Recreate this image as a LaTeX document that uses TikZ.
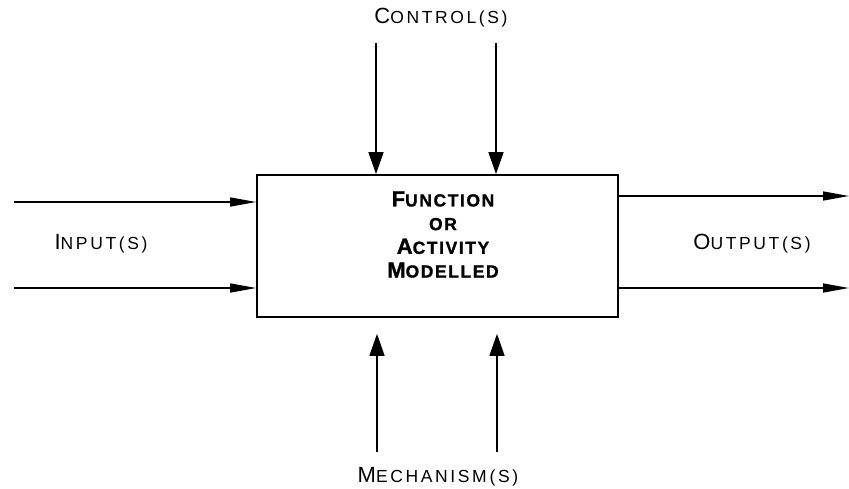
\documentclass[tikz,border=0pt]{standalone}
\usepackage{fontspec}
\usetikzlibrary{arrows.meta}
\newfontfamily\lblfont[LetterSpace=15]{Liberation Sans}
\newfontfamily\boxfont[LetterSpace=9,BoldFeatures={FakeBold=1.2}]{Liberation Sans}
% small capitals built from two sizes of capitals
\newcommand\bigsmall[2]{{\fontsize{22}{24}\selectfont #1}{\fontsize{17.5}{20}\selectfont #2}}
\newcommand\smallonly[1]{{\fontsize{17.5}{20}\selectfont #1}}
\begin{document}
\begin{tikzpicture}[x=1pt,y=-1pt,
  conn/.style={line width=1.4pt},
  vhead/.style={conn,-{Triangle[length=22pt,width=15pt]}},
  hhead/.style={conn,-{Triangle[length=26pt,width=9pt]}},
  lbl/.style={inner sep=0pt,font=\lblfont},
  fnbox/.style={draw,line width=1.7pt,minimum width=361pt,minimum height=142pt,inner sep=0pt}]
\useasboundingbox (0,0) rectangle (849,488);

% activity box and its name
\node[fnbox] (fn) at (437.5,246) {};
\node[inner sep=0pt,align=center,font=\boxfont\bfseries\fontsize{17.5}{23.7}\selectfont] (fntext) at (443,234.5)
  {\bigsmall{F}{UNCTION}\\\smallonly{OR}\\\bigsmall{A}{CTIVITY}\\\bigsmall{M}{ODELLED}};

% free ends of the arrows
\coordinate (c1) at (376,43);
\coordinate (c2) at (496,43);
\coordinate (m1) at (377,452);
\coordinate (m2) at (497,452);
\coordinate (i1) at (14,202);
\coordinate (i2) at (14,288);
\coordinate (o1) at (849,196);
\coordinate (o2) at (849,288);

% controls
\draw[vhead] (c1) -- (c1 |- fn.north);
\draw[vhead] (c2) -- (c2 |- fn.north);
% mechanisms
\draw[vhead,shorten >=16pt] (m1) -- (m1 |- fn.south);
\draw[vhead,shorten >=16pt] (m2) -- (m2 |- fn.south);
% inputs
\draw[hhead] (i1) -- (i1 -| fn.west);
\draw[hhead] (i2) -- (i2 -| fn.west);
% outputs
\draw[hhead] (o1 -| fn.east) -- (o1);
\draw[hhead] (o2 -| fn.east) -- (o2);

% labels
\node[lbl] (ctl) at (441,18) {\bigsmall{C}{ONTROL(S)}};
\node[lbl] (mech) at (438,477) {\bigsmall{M}{ECHANISM\,(S)}};
\node[lbl] (inp) at (101,244) {\bigsmall{I}{NPUT(S)}};
\node[lbl] (outp) at (752,244) {\bigsmall{O}{UTPUT(S)}};
\end{tikzpicture}
\end{document}
